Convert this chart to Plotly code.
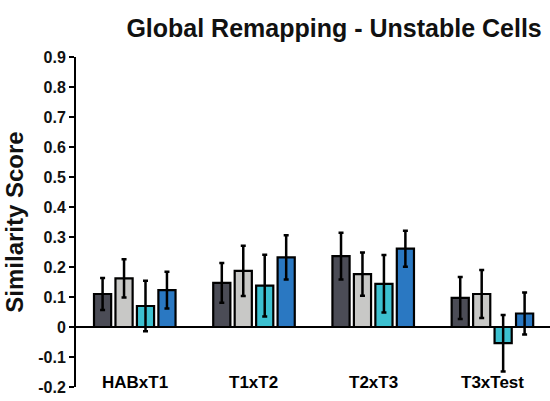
import plotly.graph_objects as go

categories = ["HABxT1", "T1xT2", "T2xT3", "T3xTest"]
series_names = ["S1", "S2", "S3", "S4"]
colors = ["#4b4c56", "#c8c8c6", "#3cc0d0", "#2a78c2"]
values = [
    [0.110, 0.147, 0.236, 0.097],
    [0.162, 0.187, 0.176, 0.110],
    [0.070, 0.138, 0.144, -0.054],
    [0.123, 0.232, 0.261, 0.045],
]
errors = [
    [0.053, 0.066, 0.078, 0.070],
    [0.064, 0.084, 0.072, 0.080],
    [0.084, 0.103, 0.096, 0.094],
    [0.061, 0.074, 0.060, 0.070],
]
yticks = [0.9, 0.8, 0.7, 0.6, 0.5, 0.4, 0.3, 0.2, 0.1, 0, -0.1, -0.2]
ytick_text = ["0.9", "0.8", "0.7", "0.6", "0.5", "0.4", "0.3", "0.2", "0.1", "0", "-0.1", "-0.2"]

fig = go.Figure()
for name, col, vals, errs in zip(series_names, colors, values, errors):
    fig.add_trace(go.Bar(
        x=list(range(len(categories))), y=vals, name=name,
        marker=dict(color=col, line=dict(color="#000000", width=2.2)),
        error_y=dict(type="data", array=errs, visible=True, color="#000000",
                     thickness=2.5, width=2.5),
    ))

for i, c in enumerate(categories):
    fig.add_annotation(x=i, y=-0.184, xref="x", yref="y", text="<b>%s</b>" % c,
                       showarrow=False, font=dict(family="Liberation Sans, Arial", size=17, color="#000"),
                       yanchor="middle", xanchor="center")

fig.update_layout(
    width=550, height=401,
    margin=dict(l=76, r=0, t=57, b=14),
    paper_bgcolor="white", plot_bgcolor="white",
    barmode="group", bargap=0.28, bargroupgap=0.2,
    showlegend=False,
    font=dict(family="Liberation Sans, Arial", color="#000"),
    title=dict(text="<b>Global Remapping - Unstable Cells</b>", x=0.985, xanchor="right",
               y=0.93, yanchor="middle", font=dict(size=25, color="#111")),
    xaxis=dict(range=[-0.493, 3.483], showticklabels=False, showline=False,
               showgrid=False, zeroline=False, ticks=""),
    yaxis=dict(range=[-0.2, 0.9], tickvals=yticks, ticktext=["<b>%s</b>" % t for t in ytick_text],
               showline=True, linecolor="#000", linewidth=2, ticks="outside", ticklen=5,
               tickwidth=2, tickcolor="#000", showgrid=False,
               zeroline=True, zerolinecolor="#000", zerolinewidth=2,
               tickfont=dict(size=16, color="#111"),
               title=dict(text="<b>Similarity Score</b>", font=dict(size=24, color="#111"), standoff=8)),
)

fig.write_html("out.html")
